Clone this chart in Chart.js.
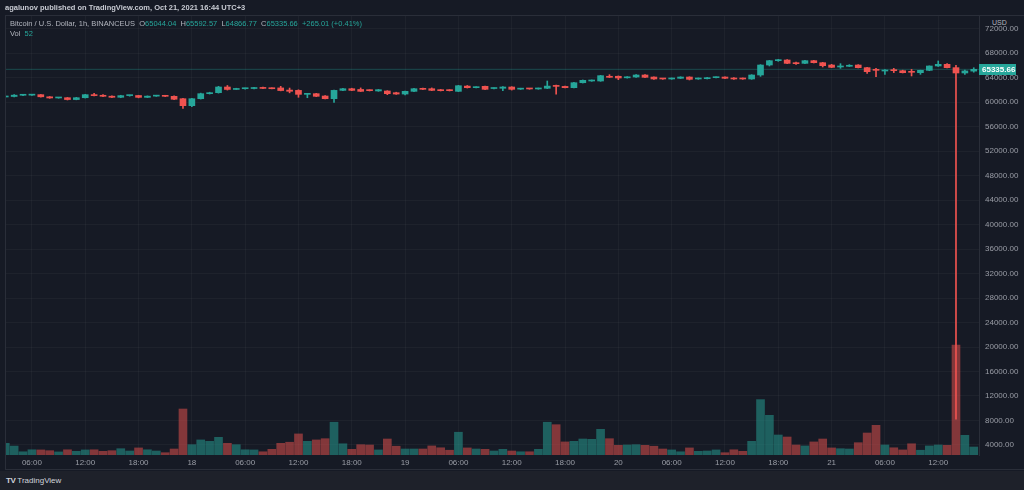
<!DOCTYPE html>
<html>
<head>
<meta charset="utf-8">
<script src="https://cdn.jsdelivr.net/npm/chart.js@4/dist/chart.umd.min.js"></script>
<style>
  html, body { margin: 0; padding: 0; background: #161a25; overflow: hidden; }
  #wrap { position: relative; width: 1024px; height: 490px; font-family: "Liberation Sans", Arial, sans-serif; }
  canvas { position: absolute; left: 0; top: 0; }
  .pane { position: absolute; left: 5px; top: 15px; width: 1030px; height: 455px; border-left: 1px solid #2a2e39; border-top: 1px solid #2a2e39; border-bottom: 1px solid #2a2e39; box-sizing: border-box; pointer-events: none; }
  .txt { position: absolute; white-space: nowrap; }
  .g { color: #b2b5be; }
  .v { color: #26a69a; }
  #footer { position: absolute; left: 0; top: 471px; width: 1024px; height: 19px; background: #1e212a; }
</style>
</head>
<body>
<div id="wrap">
  <canvas id="btcChart" width="1024" height="470"></canvas>
  <div class="pane"></div>
  <div class="txt" style="left:5px;top:3px;font-size:7.5px;font-weight:bold;color:#c8cbd3;">agalunov published on TradingView.com, Oct 21, 2021 16:44 UTC+3</div>
  <div class="txt g" style="left:10px;top:19px;font-size:7.5px;">Bitcoin / U.S. Dollar, 1h, BINANCEUS&nbsp; O<span class="v">65044.04</span>&nbsp; H<span class="v">65592.57</span>&nbsp; L<span class="v">64866.77</span>&nbsp; C<span class="v">65335.66</span>&nbsp; <span class="v">+265.01 (+0.41%)</span></div>
  <div class="txt g" style="left:10px;top:29px;font-size:7.5px;">Vol&nbsp; <span class="v">52</span></div>
  <div class="txt g" style="left:990px;top:19px;font-size:7px;background:#161a25;padding:0 2px;">USD</div>
  <div id="footer">
    <div class="txt" style="left:6px;top:5px;font-size:8px;color:#d1d4dc;"><b style="letter-spacing:-0.5px;">TV</b> TradingView</div>
  </div>
</div>
<script>
// BTC/USD 1h, BINANCEUS, Oct 17 03:00 .. Oct 21 16:00 (UTC+3)
const opens = [60820, 60900, 61100, 61120, 61200, 60850, 60660, 60700, 60400, 60700,
  61200, 61100, 60950, 60770, 61040, 61060, 60760, 60960, 61060, 60930,
  60540, 59400, 60540, 61360, 61520, 62450, 62050, 62170, 62200, 62360,
  62250, 62300, 61950, 61900, 61250, 61360, 60980, 60540, 61900, 62170,
  62050, 61900, 61800, 61800, 61520, 61300, 61740, 62170, 62170, 62010,
  61980, 61740, 62600, 62340, 62560, 62200, 62240, 62450, 62100, 62170,
  62130, 62240, 62600, 62550, 62340, 63150, 63430, 63430, 64200, 64200,
  63950, 64080, 64410, 64080, 63810, 63760, 63870, 64080, 63760, 63810,
  63970, 64080, 63920, 63870, 63760, 64410, 66040, 66750, 66860, 66420,
  66310, 66750, 66420, 66040, 65720, 65830, 66040, 65610, 65200, 65060,
  65170, 65110, 64950, 64790, 65170, 65880, 66150, 65610, 64740, 65044.04];
const highs = [60950, 61200, 61180, 61260, 61230, 60900, 60760, 60740, 60760, 61250,
  61420, 61200, 61000, 61100, 61120, 61100, 61000, 61100, 61100, 61000,
  60600, 60600, 61450, 61600, 62560, 62700, 62250, 62260, 62400, 62420,
  62320, 62560, 62280, 62000, 61350, 61420, 61050, 61950, 62220, 62250,
  62300, 62000, 62050, 61850, 61600, 61780, 62220, 62260, 62300, 62060,
  62020, 62720, 62700, 62500, 62620, 62330, 62500, 62500, 62250, 62230,
  62280, 63430, 62780, 62620, 63200, 63600, 63600, 64350, 64460, 64260,
  64150, 64460, 64460, 64120, 63870, 63920, 64120, 64120, 63920, 64030,
  64130, 64130, 63980, 63920, 64460, 66100, 66800, 66970, 66920, 66530,
  66800, 66800, 66480, 66150, 66260, 66100, 66100, 65660, 65500, 65300,
  65500, 65200, 65330, 65200, 65900, 66700, 66260, 65990, 65200, 65592.57];
const lows = [60760, 60850, 61020, 61080, 60800, 60600, 60620, 60330, 60360, 60650,
  60980, 60880, 60720, 60700, 60950, 60680, 60720, 60920, 60880, 60400,
  58970, 59250, 60480, 61300, 61450, 61950, 62050, 62100, 62150, 62180,
  62150, 61820, 61500, 60770, 60700, 60880, 60500, 59950, 61850, 61850,
  61700, 61800, 61750, 61200, 61250, 61150, 61700, 62020, 61850, 61800,
  61800, 61700, 62280, 62300, 62020, 62150, 61850, 61950, 62050, 62080,
  62080, 62180, 61300, 62280, 62300, 63100, 63380, 63380, 63980, 63650,
  63900, 64030, 63980, 63700, 63700, 63700, 63830, 63600, 63700, 63760,
  63920, 63830, 63700, 63700, 63700, 64190, 65880, 66640, 66260, 66150,
  66260, 66370, 65720, 65610, 65500, 65780, 65560, 64680, 64140, 64520,
  64800, 64740, 64250, 64520, 65110, 65800, 65560, 8200, 64490, 64866.77];
const closes = [60880, 61120, 61130, 61200, 60850, 60660, 60700, 60400, 60700, 61200,
  61040, 60930, 60770, 61040, 61060, 60760, 60960, 61060, 60930, 60450,
  59400, 60540, 61360, 61520, 62450, 62050, 62170, 62210, 62340, 62220,
  62170, 61870, 61750, 61250, 61300, 60930, 60540, 61900, 62170, 61900,
  61740, 61850, 62010, 61360, 61300, 61740, 62170, 62070, 61900, 61850,
  61850, 62660, 62340, 62400, 62070, 62240, 62450, 62070, 62170, 62130,
  62240, 62600, 62550, 62340, 63150, 63540, 63540, 64300, 64030, 63920,
  64080, 64410, 64030, 63760, 63760, 63870, 64080, 63700, 63860, 63970,
  64080, 63870, 63760, 63760, 64410, 66040, 66750, 66860, 66310, 66260,
  66750, 66420, 65930, 65660, 65830, 66000, 65610, 64950, 65170, 65220,
  65120, 64790, 64850, 65170, 65880, 66150, 65610, 64740, 65070.65, 65335.66];
// volume in BTC
const volumes = [76, 58, 21, 34, 33, 28, 20, 34, 24, 33,
  34, 24, 28, 41, 26, 46, 34, 26, 15, 39,
  299, 67, 98, 89, 115, 76, 67, 34, 33, 21,
  37, 76, 83, 137, 89, 98, 106, 213, 73, 37,
  67, 65, 33, 104, 57, 39, 39, 39, 59, 47,
  31, 148, 46, 39, 37, 26, 37, 26, 21, 21,
  37, 213, 197, 85, 89, 104, 102, 167, 106, 63,
  65, 67, 63, 57, 39, 33, 21, 46, 24, 26,
  33, 15, 34, 24, 89, 360, 258, 130, 117, 65,
  59, 85, 104, 46, 41, 39, 80, 143, 193, 65,
  47, 33, 73, 31, 59, 65, 63, 715, 128, 52];

const tickIndex = [3, 9, 15, 21, 27, 33, 39, 45, 51, 57, 63, 69, 75, 81, 87, 93, 99, 105];
const tickLabels = ['06:00', '12:00', '18:00', '18', '06:00', '12:00', '18:00', '19', '06:00', '12:00',
  '18:00', '20', '06:00', '12:00', '18:00', '21', '06:00', '12:00'];
const priceTicks = [4000, 8000, 12000, 16000, 20000, 24000, 28000, 32000, 36000, 40000,
  44000, 48000, 52000, 56000, 60000, 64000, 68000, 72000];

const UP = '#26a69a';
const DOWN = '#ef5350';
const UP_VOL = 'rgba(38, 166, 154, 0.5)';
const DOWN_VOL = 'rgba(239, 83, 80, 0.5)';
const GRID = 'rgba(255, 255, 255, 0.035)';
const TEXT = '#9a9da6';
const FONT = { family: '"Liberation Sans", Arial, sans-serif', size: 8 };

const xMin = -0.03, xMax = 109.59;
const isUp = closes.map((c, i) => c >= opens[i]);
const candleColors = isUp.map(u => u ? UP : DOWN);
const volColors = isUp.map(u => u ? UP_VOL : DOWN_VOL);
const lastClose = closes[closes.length - 1];

const priceTag = {
    id: 'priceTag',
    afterDraw(chart) {
        const { ctx, chartArea, scales } = chart;
        const y = scales.y.getPixelForValue(lastClose);
        ctx.save();
        ctx.fillStyle = UP;
        ctx.fillRect(chartArea.right, Math.round(y) - 5, 37, 11);
        ctx.fillStyle = '#ffffff';
        ctx.font = 'bold 8px "Liberation Sans", Arial, sans-serif';
        ctx.textBaseline = 'middle';
        ctx.fillText(lastClose.toFixed(2), chartArea.right + 3, Math.round(y) + 0.5);
        ctx.restore();
    }
};

const ctx = document.getElementById('btcChart').getContext('2d');
new Chart(ctx, {
    type: 'bar',
    data: {
        datasets: [
            {
                label: 'body',
                data: opens.map((o, i) => ({ x: i, y: [o, closes[i]] })),
                backgroundColor: candleColors,
                barThickness: 6,
                minBarLength: 1,
                grouped: false,
                order: 0
            },
            {
                label: 'wick',
                data: lows.map((l, i) => ({ x: i, y: [l, highs[i]] })),
                backgroundColor: candleColors,
                barThickness: 1,
                grouped: false,
                order: 1
            },
            {
                type: 'line',
                label: 'last',
                data: [{ x: xMin, y: lastClose }, { x: xMax, y: lastClose }],
                borderColor: 'rgba(38, 166, 154, 0.35)',
                borderWidth: 1,
                pointRadius: 0,
                order: 2
            },
            {
                label: 'Vol',
                data: volumes.map((v, i) => ({ x: i, y: v })),
                yAxisID: 'vol',
                backgroundColor: volColors,
                barThickness: 8,
                grouped: false,
                order: 3
            }
        ]
    },
    options: {
        responsive: false,
        animation: false,
        layout: { padding: { left: 5, top: 15, right: 0, bottom: 0 } },
        plugins: { legend: { display: false }, tooltip: { enabled: false } },
        scales: {
            x: {
                type: 'linear',
                min: xMin,
                max: xMax,
                offset: false,
                grid: { color: GRID, drawTicks: false, offset: false },
                border: { display: false },
                afterBuildTicks: scale => { scale.ticks = tickIndex.map(v => ({ value: v })); },
                afterFit: scale => { scale.height = 15; },
                ticks: {
                    color: TEXT,
                    font: FONT,
                    padding: 3,
                    maxRotation: 0,
                    autoSkip: false,
                    callback: value => tickLabels[tickIndex.indexOf(value)]
                }
            },
            y: {
                position: 'right',
                min: 2367,
                max: 74206,
                grid: { color: GRID, drawTicks: false },
                border: { display: true, color: '#2a2e39' },
                afterBuildTicks: scale => { scale.ticks = priceTicks.map(v => ({ value: v })); },
                afterFit: scale => { scale.width = 45; },
                ticks: {
                    color: TEXT,
                    font: FONT,
                    padding: 6,
                    autoSkip: false,
                    callback: value => value.toFixed(2)
                }
            },
            vol: {
                display: false,
                min: 0,
                max: 2860
            }
        }
    },
    plugins: [priceTag]
});
</script>
</body>
</html>
